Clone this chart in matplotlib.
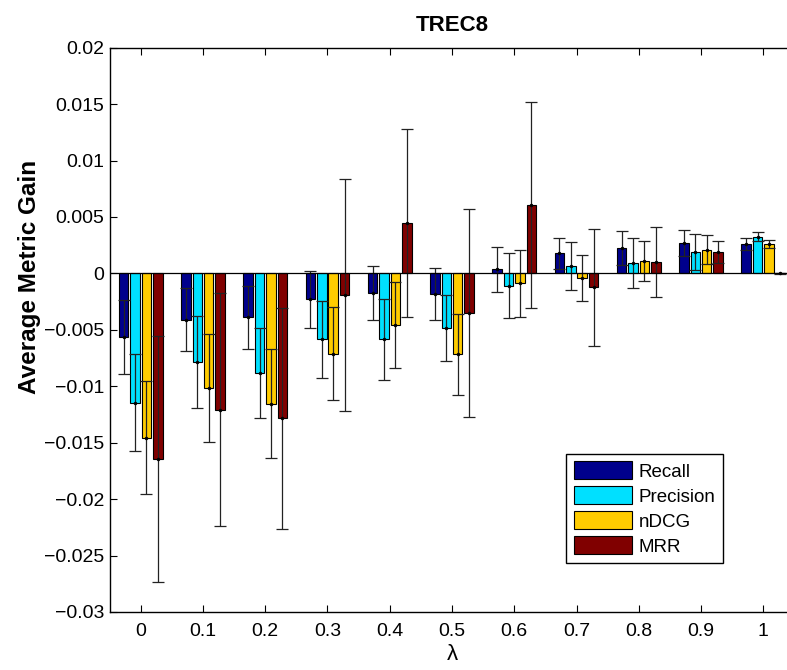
import matplotlib
matplotlib.use("Agg")
import matplotlib.pyplot as plt
import numpy as np

plt.rcParams['font.family'] = ['Liberation Sans', 'DejaVu Sans']

lambdas = [0, 0.1, 0.2, 0.3, 0.4, 0.5, 0.6, 0.7, 0.8, 0.9, 1.0]
tick_labels = ['0', '0.1', '0.2', '0.3', '0.4', '0.5', '0.6', '0.7', '0.8', '0.9', '1']

series_names = ['Recall', 'Precision', 'nDCG', 'MRR']
recall = [-0.00562, -0.00411, -0.00390, -0.00230, -0.00177, -0.00183, 0.00036, 0.00178, 0.00225, 0.00272, 0.00261]
recall_err = [0.0033, 0.0028, 0.0028, 0.0025, 0.0024, 0.0023, 0.0020, 0.0014, 0.0015, 0.00116, 0.0005]
precision = [-0.01147, -0.00786, -0.00881, -0.00585, -0.00585, -0.00485, -0.00109, 0.00065, 0.00092, 0.00190, 0.00323]
precision_err = [0.0043, 0.0041, 0.0040, 0.0034, 0.0036, 0.0029, 0.0029, 0.0021, 0.0022, 0.0016, 0.0004]
ndcg = [-0.01455, -0.01017, -0.01153, -0.00710, -0.00458, -0.00716, -0.00089, -0.00041, 0.00110, 0.00210, 0.00261]
ndcg_err = [0.0050, 0.0048, 0.0048, 0.0041, 0.0038, 0.0036, 0.0030, 0.0020, 0.0018, 0.0013, 0.00037]
mrr = [-0.01644, -0.01207, -0.01283, -0.00192, 0.00447, -0.00349, 0.00607, -0.00124, 0.00098, 0.00190, 0.0]
mrr_err = [0.0109, 0.0103, 0.0098, 0.0103, 0.0083, 0.0092, 0.0091, 0.0052, 0.0031, 0.00096, 0.00002]

yticks = [0.02, 0.015, 0.01, 0.005, 0, -0.005, -0.01, -0.015, -0.02, -0.025, -0.03]
ytick_labels = ['0.02', '0.015', '0.01', '0.005', '0', '\u22120.005', '\u22120.01', '\u22120.015', '\u22120.02', '\u22120.025', '\u22120.03']

colors = ['#00008C', '#00E0FF', '#FFCC00', '#800000']
values = [recall, precision, ndcg, mrr]
errors = [recall_err, precision_err, ndcg_err, mrr_err]

fig = plt.figure(figsize=(7.87, 6.70), dpi=100)
ax = fig.add_axes([109.6 / 787, 58 / 670, 684.8 / 787, 564.3 / 670])

x = np.array(lambdas)
step = 0.0183
width = 0.0152
for i, (name, v, e, c) in enumerate(zip(series_names, values, errors, colors)):
    xi = x + (i - 1.5) * step
    ax.bar(xi, v, width=width, color=c, edgecolor='black', linewidth=0.8, label=name, zorder=2)
    ax.errorbar(xi, v, yerr=e, fmt='.', color='black', ecolor='#222222', elinewidth=0.9,
                capsize=4.3, capthick=0.9, markersize=3, zorder=3)

ax.axhline(0, color='black', linewidth=0.9, zorder=4)

ax.set_xlim(-0.05, 1.05)
ax.set_ylim(-0.03, 0.02)
ax.set_xticks(lambdas)
ax.set_xticklabels(tick_labels, fontsize=14)
ax.set_yticks(yticks)
ax.set_yticklabels(ytick_labels, fontsize=14)
ax.tick_params(direction='in', top=True, right=True, length=5, width=0.8, pad=4)
ax.tick_params(axis='x', pad=8)
for s in ax.spines.values():
    s.set_linewidth(1.0)

ax.set_title('TREC8', fontsize=16, fontweight='bold', pad=12)
ax.set_ylabel('Average Metric Gain', fontsize=17.5, fontweight='bold')
ax.yaxis.set_label_coords(-0.10, 0.594)
ax.set_xlabel('\u03bb', fontsize=16, labelpad=3)

leg = ax.legend(loc='lower right', bbox_to_anchor=(0.8957, 0.0868), borderaxespad=0,
                fontsize=13.5, handlelength=3.1, handleheight=1.1, handletextpad=0.35,
                labelspacing=0.3, fancybox=False, framealpha=1, edgecolor='black',
                borderpad=0.4)
leg.get_frame().set_linewidth(1.0)

fig.savefig('out.png', dpi=100)
